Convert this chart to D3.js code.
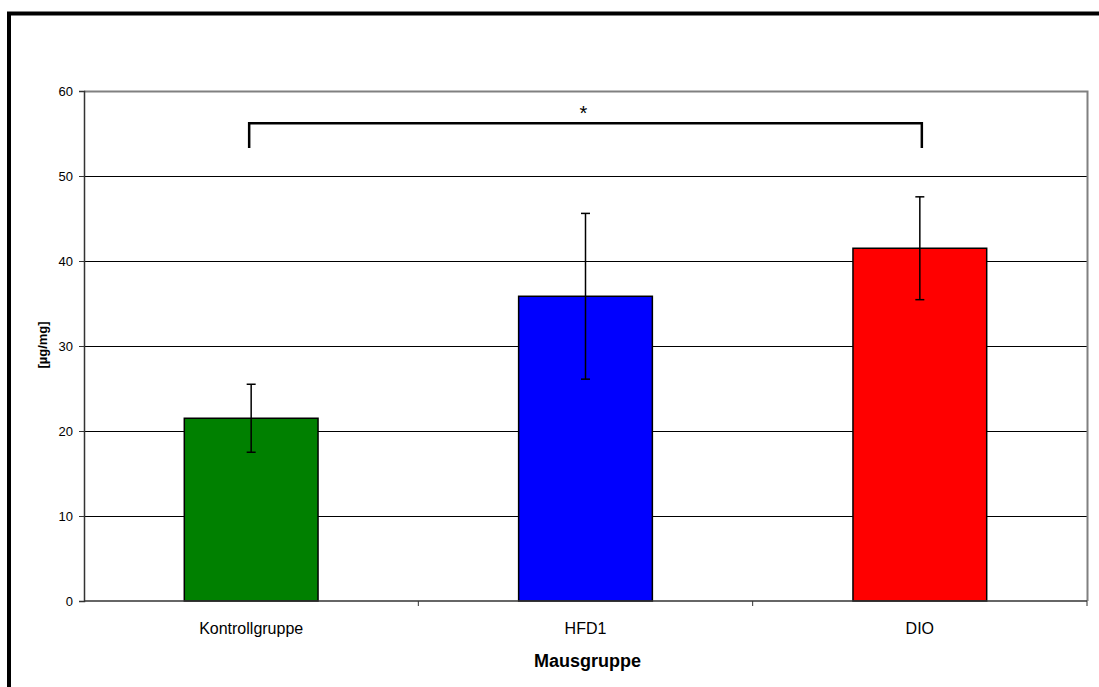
<!DOCTYPE html>
<html>
<head>
<meta charset="utf-8">
<script src="https://cdn.jsdelivr.net/npm/d3@7"></script>
<style>
  body { margin: 0; background: #fff; }
  svg { display: block; font-family: "Liberation Sans", Arial, sans-serif; }
</style>
</head>
<body>
<svg id="chart"></svg>
<script>
// data
const groups = ["Kontrollgruppe", "HFD1", "DIO"];
const means = [21.5, 35.85, 41.5];
const errors = [4.0, 9.75, 6.05];
const colors = ["#008000", "#0000ff", "#ff0000"];
const yTicks = [0, 10, 20, 30, 40, 50, 60];
// significance bracket between first and last group
const sigPair = ["Kontrollgruppe", "DIO"];
const sigTop = 56.2, sigFoot = 53.3, sigLabel = "*";

const width = 1099, height = 687;
const margin = { top: 91, right: 12, bottom: 86, left: 84 };

const svg = d3.select("#chart")
  .attr("width", width)
  .attr("height", height);

// thick frame (only top/left visible in the crop)
svg.append("rect")
  .attr("x", 9).attr("y", 13.5)
  .attr("width", width + 20).attr("height", height + 20)
  .attr("fill", "none")
  .attr("stroke", "#000")
  .attr("stroke-width", 4);

const x = d3.scaleBand()
  .domain(groups)
  .range([margin.left, width - margin.right]);

const y = d3.scaleLinear()
  .domain([0, 60])
  .range([height - margin.bottom, margin.top]);

// gridlines
svg.append("g")
  .selectAll("line")
  .data(yTicks.filter(d => d > 0 && d < 60))
  .enter().append("line")
  .attr("x1", margin.left).attr("x2", width - margin.right)
  .attr("y1", d => y(d) + 0.5).attr("y2", d => y(d) + 0.5)
  .attr("stroke", "#000")
  .attr("stroke-width", 1);

// plot area border top + right (gray)
svg.append("path")
  .attr("d", `M${margin.left},${y(60) + 0.5}H${width - margin.right + 0.5}V${y(0)}`)
  .attr("fill", "none")
  .attr("stroke", "#808080")
  .attr("stroke-width", 2);

const barW = x.bandwidth() * 0.4;
const cx = d => x(d) + x.bandwidth() / 2;

// bars
svg.append("g")
  .selectAll("rect")
  .data(groups)
  .enter().append("rect")
  .attr("x", d => cx(d) - barW / 2)
  .attr("y", (d, i) => y(means[i]))
  .attr("width", barW)
  .attr("height", (d, i) => y(0) - y(means[i]))
  .attr("fill", (d, i) => colors[i])
  .attr("stroke", "#000")
  .attr("stroke-width", 1.5);

// error bars
const eb = svg.append("g").attr("stroke", "#000").attr("stroke-width", 1.5);
groups.forEach((g, i) => {
  const hi = y(means[i] + errors[i]), lo = y(means[i] - errors[i]);
  eb.append("line").attr("x1", cx(g)).attr("x2", cx(g)).attr("y1", hi).attr("y2", lo);
  eb.append("line").attr("x1", cx(g) - 4.5).attr("x2", cx(g) + 4.5).attr("y1", hi).attr("y2", hi);
  eb.append("line").attr("x1", cx(g) - 4.5).attr("x2", cx(g) + 4.5).attr("y1", lo).attr("y2", lo);
});

// y axis
const yAxis = svg.append("g")
  .attr("transform", `translate(${margin.left}, 0)`)
  .call(d3.axisLeft(y).tickValues(yTicks).tickSize(5).tickPadding(6));
yAxis.select(".domain").attr("stroke", "#333").attr("stroke-width", 1.5);
yAxis.selectAll(".tick line").attr("stroke", "#333");
yAxis.selectAll("text").style("font-size", "13px").attr("fill", "#000");

// x axis: ticks between categories
const xAxis = svg.append("g")
  .attr("transform", `translate(0, ${y(0)})`);
xAxis.append("line")
  .attr("x1", margin.left).attr("x2", width - margin.right)
  .attr("stroke", "#333").attr("stroke-width", 1.5);
xAxis.selectAll(".sep")
  .data(groups)
  .enter().append("line")
  .attr("x1", d => x(d) + x.bandwidth()).attr("x2", d => x(d) + x.bandwidth())
  .attr("y1", 0).attr("y2", 5)
  .attr("stroke", "#333");
xAxis.selectAll("text")
  .data(groups)
  .enter().append("text")
  .attr("x", d => cx(d))
  .attr("y", 33)
  .attr("text-anchor", "middle")
  .style("font-size", "16px")
  .text(d => d);

// axis titles
svg.append("text")
  .attr("x", (margin.left + width - margin.right) / 2 + 2)
  .attr("y", 667)
  .attr("text-anchor", "middle")
  .style("font-size", "18px")
  .style("font-weight", "bold")
  .text("Mausgruppe");

svg.append("text")
  .attr("transform", "translate(47, 345) rotate(-90)")
  .attr("text-anchor", "middle")
  .style("font-size", "13px")
  .style("font-weight", "bold")
  .text("[µg/mg]");

// significance bracket
const bx1 = cx(sigPair[0]) - 2, bx2 = cx(sigPair[1]) + 2;
svg.append("path")
  .attr("d", `M${bx1},${y(sigFoot)}V${y(sigTop)}H${bx2}V${y(sigFoot)}`)
  .attr("fill", "none")
  .attr("stroke", "#000")
  .attr("stroke-width", 2.5);
svg.append("text")
  .attr("x", (bx1 + bx2) / 2 - 2)
  .attr("y", y(sigTop) - 3)
  .attr("text-anchor", "middle")
  .style("font-size", "20px")
  .text(sigLabel);
</script>
</body>
</html>
